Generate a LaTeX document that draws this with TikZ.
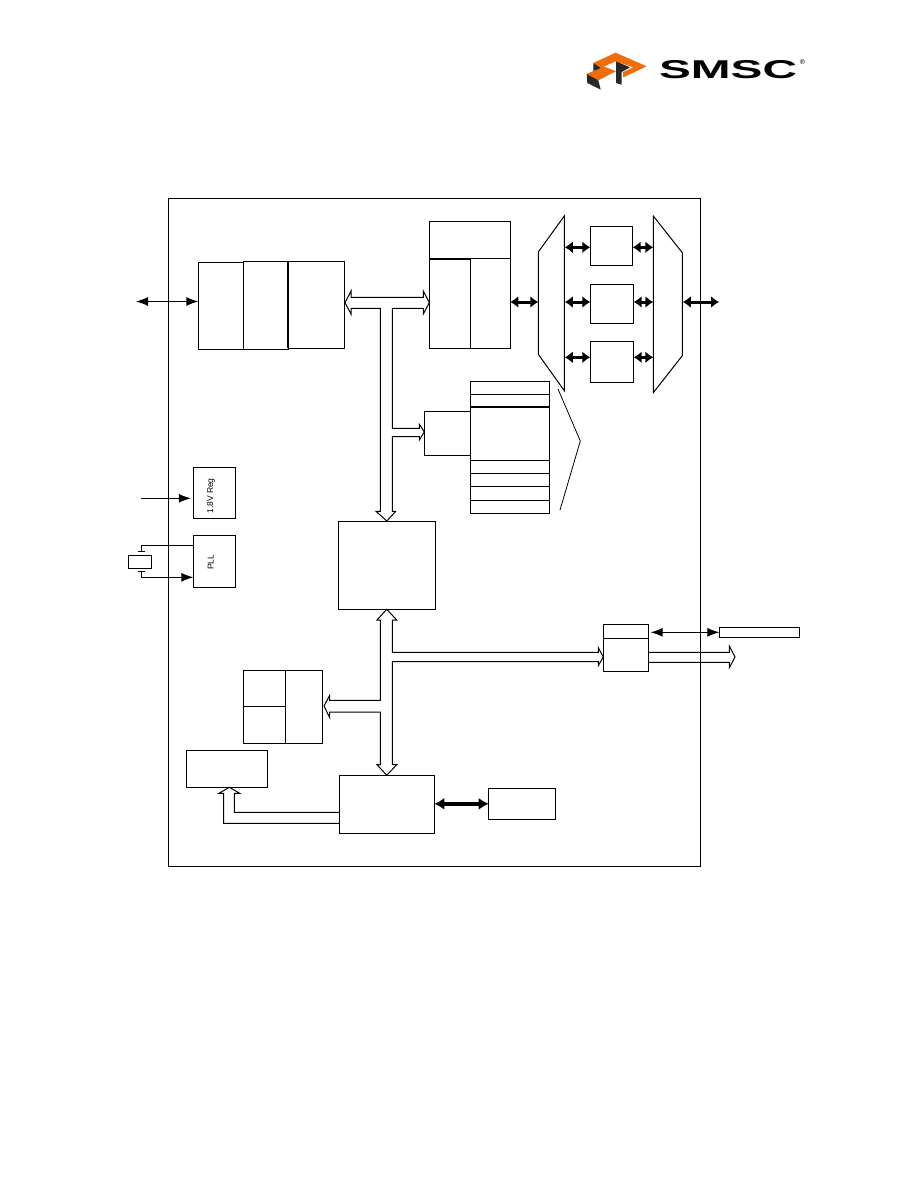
\documentclass[tikz,border=0pt]{standalone}
\usepackage{graphicx}
\usepackage{fontspec}
\setmainfont{Liberation Sans}
\usepackage{tikz}
\usetikzlibrary{arrows.meta}
\definecolor{logoorange}{RGB}{240,110,10}
\definecolor{logodark}{RGB}{40,40,40}
\tikzset{
  blockbox/.style={draw,line width=1pt,inner sep=0pt,outer sep=0pt},
  sideline/.style={font=\fontsize{8.5}{9}\selectfont,rotate=90,inner sep=0pt},
  sigline/.style={line width=1pt},
  duplex/.style={line width=3pt,{Latex[length=8pt,width=12pt]}-{Latex[length=8pt,width=12pt]}},
  busline/.style={line width=1pt,line join=miter},
  heavyline/.style={line width=2pt}
}
\begin{document}
\begin{tikzpicture}[x=1pt,y=-1pt,>={Latex[length=12pt,width=9pt]}]
  \useasboundingbox (0,0) rectangle (918,1188);

  \fill[logoorange] (593.3,63)--(615.7,52.7)--(646.7,66.3)--(623.3,77.3)--(622.7,72.3)--(633.3,67.3)--(615.7,61.3)--(600.7,68)--cycle;
  \fill[logoorange] (586.7,74)--(603.3,66.3)--(616,71.3)--(598.3,80.3)--cycle;
  \fill[logodark] (586.7,74)--(598.3,80.3)--(600.7,89.7)--(587.3,83)--cycle;
  \fill[logodark] (593.3,63)--(600.7,68)--(593.3,71)--cycle;
  \fill[logodark] (616,61.3)--(630,67.3)--(621.7,72)--(621.7,84.7)--(616,83)--cycle;
  \node[inner sep=0pt] (logotext) at (728,69.5) {\resizebox{138pt}{18pt}{\bfseries SMSC}};
  \node[inner sep=0pt,font=\fontsize{7}{7}\selectfont] (logomark) at (802.5,62.5) {®};

  \node[blockbox,minimum width=531.5pt,minimum height=668pt] (frame) at (434.25,532) {};

  \node[blockbox,minimum width=45pt,minimum height=87pt] (phy) at (220.8,305.8) {};
  \node[blockbox,minimum width=44.7pt,minimum height=88pt] (mac) at (265.65,305.3) {};
  \node[blockbox,minimum width=56.3pt,minimum height=87pt] (fifoctl) at (316.15,304.8) {};
  \draw[heavyline] (fifoctl.north west)--(fifoctl.south west);

  \node[blockbox,minimum width=81pt,minimum height=37.4pt] (bufhead) at (469.8,240) {};
  \node[blockbox,minimum width=41pt,minimum height=89.6pt] (bufleft) at (449.8,303.5) {};
  \node[blockbox,minimum width=40pt,minimum height=89.6pt] (bufright) at (490.3,303.5) {};
  \draw[heavyline] (bufleft.north west)--(bufleft.north east);

  \draw[line width=1pt] (564.3,216)--(538.3,252)--(538.3,354.3)--(564.3,390.7)--cycle;
  \draw[line width=1pt] (653.3,216)--(682.3,252.7)--(682.3,355.7)--(653.3,392.7)--cycle;
  \coordinate (muxinw) at (538.3,0);
  \coordinate (muxine) at (564.8,0);
  \coordinate (muxoutw) at (653.3,0);
  \coordinate (muxoute) at (682.8,0);
  \coordinate (rowa) at (0,247.3);
  \coordinate (rowb) at (0,302);
  \coordinate (rowc) at (0,357.3);

  \node[blockbox,minimum width=42.4pt,minimum height=39pt] (enca) at (611.5,245.8) {};
  \node[blockbox,minimum width=43.4pt,minimum height=39pt] (encb) at (612,303.8) {};
  \node[blockbox,minimum width=43.4pt,minimum height=41pt] (encc) at (612,361.8) {};
  \foreach \enc/\row in {enca/rowa,encb/rowb,encc/rowc} {
    \draw[duplex] (muxine |- \row)--(\enc.west |- \row);
    \draw[duplex] (\enc.east |- \row)--(muxoutw |- \row);
  }
  \draw[duplex] (bufright.east |- rowb)--(muxinw |- rowb);
  \coordinate (lineout) at (719,302);
  \draw[duplex] (muxoute |- lineout)--(lineout);

  \node[blockbox,minimum width=79pt,minimum height=131.6pt] (regfile) at (509.8,447.5) {};
  \foreach \y in {394.3,460.3,473.3,486.3,500.3} \draw[line width=1pt] (470.3,\y)--(549.3,\y);
  \draw[heavyline] (470.3,407)--(549.3,407);
  \node[blockbox,minimum width=46pt,minimum height=44.4pt] (regctl) at (447.3,433.5) {};
  \draw[line width=.8pt] (558,389)--(580.3,441)--(560,510);

  \node[blockbox,minimum width=97pt,minimum height=88.3pt] (cpu) at (386.8,565.15) {};
  \draw[busline] (345,302.7)--(351,291)--(351,297.3)--(423.3,297.3)--(423.3,291)--(429.3,302.7)--(423.3,314)--(423.3,308.3)
    --(392.3,308.3)--(392.3,428.3)--(419.3,428.3)--(419.3,424.3)--(424.3,432)--(419.3,440)--(419.3,436.7)
    --(392.3,436.7)--(392.3,511.3)--(395.7,511.3)--(cpu.north)--(376,511.3)--(380.3,511.3)--(380.3,308.3)
    --(351,308.3)--(351,314)--cycle;

  \coordinate (hostpin) at (136,301.5);
  \draw[sigline,<->] (hostpin)--(phy.west |- hostpin);

  \node[blockbox,minimum width=42.4pt,minimum height=51pt] (vreg) at (214.5,492.8) {};
  \node[sideline] (vreglabel) at (211,496) {1.8V Reg};
  \node[blockbox,minimum width=42.4pt,minimum height=52pt] (pll) at (214.5,561.3) {};
  \node[sideline] (plllabel) at (210.7,562.3) {PLL};
  \coordinate (vregpin) at (141,498.3);
  \draw[sigline,->,shorten >=2.5pt] (vregpin)--(vreg.west |- vregpin);

  \node[blockbox,minimum width=23.4pt,minimum height=13pt] (crystal) at (140,561.8) {};
  \coordinate (xtala) at (141.3,551);
  \coordinate (xtalb) at (141.3,571.7);
  \coordinate (rowxa) at (0,545.3);
  \coordinate (rowxb) at (0,577.3);
  \draw[sigline] ([xshift=-3.7pt]xtala)--([xshift=3.7pt]xtala);
  \draw[sigline] ([xshift=-3.7pt]xtalb)--([xshift=3.7pt]xtalb);
  \draw[sigline] (xtala) |- (pll.west |- rowxa);
  \draw[sigline,->] (xtalb) |- (pll.west |- rowxb);

  \node[blockbox,minimum width=45pt,minimum height=47pt] (serial) at (625.8,647.8) {};
  \draw[sigline] (603.3,638.3)--(648.3,638.3);
  \node[blockbox,minimum width=80.4pt,minimum height=10pt] (pad) at (759.5,632.3) {};
  \draw[sigline,<->,shorten <=2.4pt] (serial.east |- pad)--(pad.west);

  \node[blockbox,minimum width=42pt,minimum height=36pt] (memtop) at (264.3,688.3) {};
  \node[blockbox,minimum width=42pt,minimum height=37pt] (membot) at (264.3,724.8) {};
  \node[blockbox,minimum width=37pt,minimum height=73pt] (memside) at (303.8,706.8) {};
  \node[blockbox,minimum width=81pt,minimum height=37pt] (sink) at (226.8,768.8) {};
  \node[blockbox,minimum width=95pt,minimum height=58pt] (lower) at (386.8,804.3) {};
  \node[blockbox,minimum width=67pt,minimum height=31pt] (extern) at (522.2,803.8) {};
  \draw[line width=3.5pt,{Latex[length=10pt,width=12pt]}-{Latex[length=10pt,width=12pt]}] (lower.east |- extern)--(extern.west);

  \draw[busline] (cpu.south)--(396.7,620)--(392.3,620)--(392.3,652.3)--(598.3,652.3)--(598.3,647.7)--(603.3,657)--(598.3,665.7)--(598.3,661.7)
    --(392.3,661.7)--(392.3,764.7)--(396.7,764.7)--(lower.north)--(377,764.7)--(380.3,764.7)--(380.3,712)
    --(329.7,712)--(329.7,717.7)--(324,706)--(329.7,695.3)--(329.7,700.3)--(380.3,700.3)--(380.3,620)--(377,620)--cycle;

  \draw[busline] (339.3,812.3)--(234.3,812.3)--(234.3,793.3)--(239.7,793.3)--(229.3,787.3)--(219,793.3)--(223.7,793.3)--(223.7,823.3)--(339.3,823.3);

  \draw[busline] (648.3,652.3)--(729.3,652.3)--(729.3,646)--(735,657)--(729.3,667.7)--(729.3,662.3)--(648.3,662.3);
\end{tikzpicture}
\end{document}
